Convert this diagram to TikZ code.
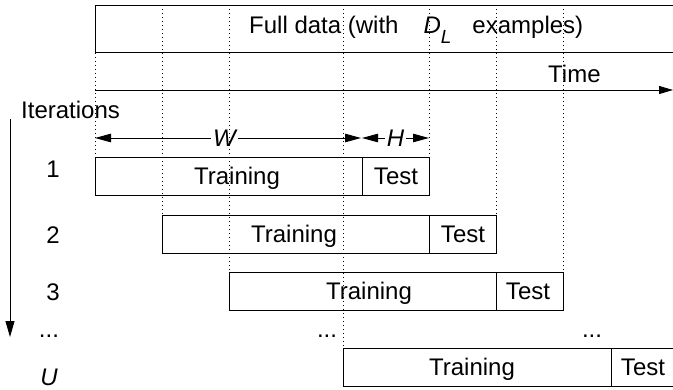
\documentclass[tikz,border=0pt]{standalone}
\usepackage{fontspec}
\setmainfont{Liberation Sans}
\usetikzlibrary{arrows.meta}
\begin{document}
\begin{tikzpicture}[x=1pt, y=-1pt,
  seg/.style={draw, line width=0.9pt, inner sep=0pt, anchor=north west, minimum height=38pt},
  guide/.style={line width=0.9pt, dash pattern=on 1pt off 3pt},
  txt/.style={inner sep=0pt, anchor=base, font=\fontsize{24}{28}\selectfont},
  axis/.style={line width=0.9pt, -{Triangle[length=14pt, width=8pt]}},
  dimline/.style={line width=0.9pt, {Triangle[length=16pt, width=8.5pt]}-{Triangle[length=16pt, width=8.5pt]}},
  dimlabel/.style={fill=white, inner sep=2pt, font=\fontsize{24}{28}\selectfont\itshape}
]
\useasboundingbox (0,0) rectangle (673,389);
\begin{scope}
\clip (0,0) rectangle (673,389);

% whole data set
\node[seg, minimum width=585pt, minimum height=47pt] (full) at (95,5) {};
\node[txt, anchor=base west] (fulltxt) at (249,33)
  {Full data (with\hspace{25pt}\textit{D}\raisebox{-10pt}{\fontsize{19}{20}\selectfont\textit{L}}\hspace{21pt}examples)};

% time axis
\coordinate (t0) at (95,90);
\coordinate (t1) at (673,90);
\draw[axis] (t0) -- (t1);
\node[txt, anchor=base west] (time) at (548,82) {Time};

% iteration axis
\node[txt, anchor=base west] (iter) at (21,118) {Iterations};
\coordinate (i0) at (10,119);
\coordinate (i1) at (10,337);
\draw[line width=0.9pt, -{Triangle[length=16pt, width=9pt]}] (i0) -- (i1);

% window sizes
\coordinate (w0) at (95,138);
\coordinate (w1) at (361,138);
\coordinate (h0) at (362,138);
\coordinate (h1) at (429,138);
\draw[dimline] (w0) -- node[dimlabel, pos=0.487] (wlbl) {W} (w1);
\draw[dimline] (h0) -- node[dimlabel] (hlbl) {H} (h1);

% sliding training / test windows
\node[seg, minimum width=267pt] (tr1) at (95,157) {};
\node[seg, minimum width=67pt]  (te1) at (362,157) {};
\node[seg, minimum width=267pt] (tr2) at (162,215) {};
\node[seg, minimum width=67pt]  (te2) at (429,215) {};
\node[seg, minimum width=267pt] (tr3) at (229,272) {};
\node[seg, minimum width=67pt]  (te3) at (496,272) {};
\node[seg, minimum width=268pt] (trU) at (343,348) {};
\node[seg, minimum width=67pt]  (teU) at (611,348) {};

\node[txt] (trtxt1) at (237,184.6) {Training};
\node[txt] (tetxt1) at (396,184.6) {Test};
\node[txt] (trtxt2) at (294,242.6) {Training};
\node[txt] (tetxt2) at (463,242.6) {Test};
\node[txt] (trtxt3) at (369,299.6) {Training};
\node[txt] (tetxt3) at (528,299.6) {Test};
\node[txt] (trtxtU) at (472,375.6) {Training};
\node[txt] (tetxtU) at (643,375.6) {Test};

% iteration numbers
\node[txt] (n1) at (53,177) {1};
\node[txt] (n2) at (53,243) {2};
\node[txt] (n3) at (53,300) {3};
\node[txt] (ndots) at (49,337) {...};
\node[txt] (nU) at (49,385) {\itshape U};
\node[txt] (mdots) at (327,337) {...};
\node[txt] (rdots) at (592,337) {...};

% dotted guides
\draw[guide] (full.south west) -- (tr1.north west);
\draw[guide] (tr2.north west |- full.north) -- (tr2.north west);
\draw[guide] (tr3.north west |- full.north) -- (tr3.north west);
\draw[guide] (trU.north west |- full.north) -- (trU.north west);
\draw[guide] (te1.north east |- full.north) -- (te1.north east);
\draw[guide] (te2.north east |- full.north) -- (te2.north east);
\draw[guide] (te3.north east |- full.north) -- (te3.north east);
\end{scope}
\end{tikzpicture}
\end{document}
